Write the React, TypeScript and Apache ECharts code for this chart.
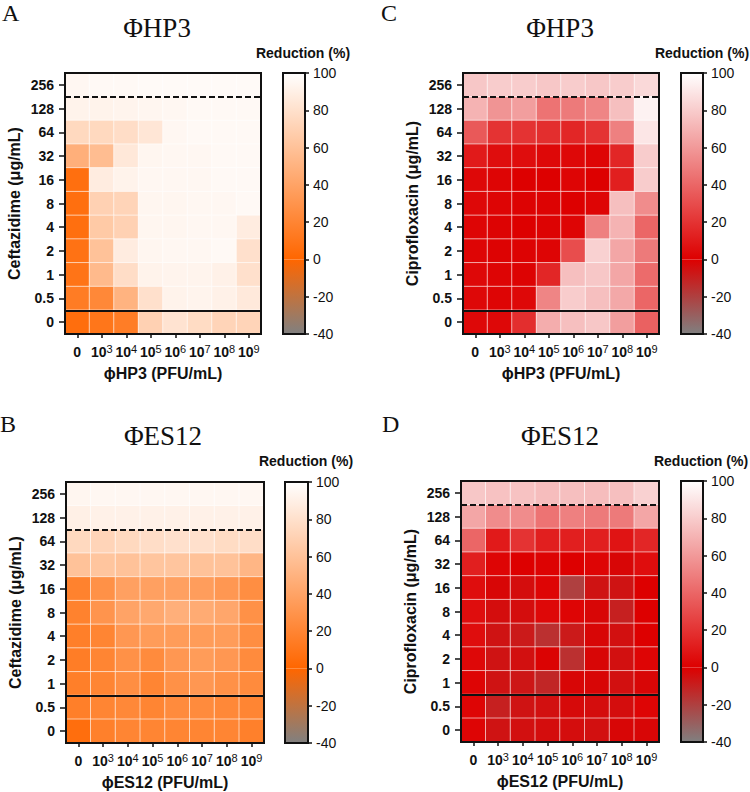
import React, { useEffect, useRef } from "react";
import * as echarts from "echarts";

// ---------- data ----------
const doseExponents = ["0", "3", "4", "5", "6", "7", "8", "9"]; // "0" then 10^n PFU/mL
const concLabels = ["0", "0.5", "1", "2", "4", "8", "16", "32", "64", "128", "256"]; // bottom -> top

// rows listed top (256) -> bottom (0), columns 0, 10^3 ... 10^9
const hp3Ceftazidime = [
  [95, 96, 96, 97, 97, 97, 97, 97],
  [92, 92, 93, 94, 95, 96, 96, 96],
  [75, 75, 78, 84, 95, 96, 96, 96],
  [48, 57, 85, 94, 95, 95, 96, 96],
  [6, 88, 92, 95, 95, 95, 96, 96],
  [6, 70, 72, 94, 94, 95, 95, 96],
  [6, 65, 70, 94, 94, 95, 95, 88],
  [8, 60, 88, 94, 95, 95, 96, 80],
  [9, 55, 78, 92, 93, 93, 91, 80],
  [14, 22, 50, 80, 92, 93, 91, 86],
  [5, 10, 15, 70, 82, 77, 72, 72],
];
const es12Ceftazidime = [
  [94, 95, 95, 95, 95, 95, 95, 95],
  [90, 91, 91, 91, 91, 91, 91, 91],
  [75, 72, 75, 78, 80, 80, 77, 78],
  [60, 62, 60, 62, 62, 60, 60, 52],
  [18, 28, 38, 38, 38, 36, 32, 26],
  [18, 30, 40, 43, 48, 45, 42, 28],
  [16, 20, 32, 35, 35, 35, 35, 26],
  [15, 20, 28, 24, 32, 35, 32, 24],
  [16, 20, 26, 20, 28, 32, 28, 24],
  [16, 20, 22, 20, 24, 24, 22, 20],
  [5, 17, 20, 20, 20, 20, 20, 17],
];
const hp3Ciprofloxacin = [
  [78, 80, 80, 78, 80, 78, 80, 85],
  [70, 58, 62, 45, 48, 52, 75, 95],
  [35, 20, 20, 18, 15, 20, 50, 90],
  [10, 5, 5, 3, 3, 2, 15, 80],
  [3, 2, 0, 0, 2, 0, 12, 80],
  [3, 2, 1, 1, 0, 2, 75, 55],
  [2, 1, 0, 1, 2, 50, 70, 40],
  [2, 1, 1, 2, 30, 82, 65, 48],
  [3, 2, 1, 15, 75, 78, 65, 42],
  [3, 2, 3, 52, 80, 75, 66, 40],
  [3, 3, 18, 68, 75, 78, 62, 38],
];
const es12Ciprofloxacin = [
  [78, 76, 76, 74, 75, 74, 75, 82],
  [65, 55, 55, 45, 50, 48, 48, 65],
  [40, 10, 20, 12, 12, 12, 8, 15],
  [12, 2, 0, 1, 0, 2, -2, 5],
  [5, -2, -4, 2, -20, -6, -6, 0],
  [5, -4, -4, 3, 2, -2, -10, 0],
  [5, -6, -8, -15, -8, -2, -5, 0],
  [3, -6, -5, -1, -15, -2, -5, 2],
  [2, -6, -7, -12, -2, -2, -5, -2],
  [2, -10, -6, -5, -3, -4, -4, 2],
  [2, -6, -5, -4, -4, -5, -2, -2],
];
// boundary positions (in row units from bottom) of the dashed / solid lines
const dashedLines = [10, 9, 10, 10]; // A, B, C, D
const solidLines = [1, 2, 1, 2];
const scaleMin = -40;
const scaleMax = 100;

// ---------- panels ----------
const panels = [
  { letter: "A", title: "\u03A6HP3", phage: "\u03D5HP3 (PFU/mL)", drug: "Ceftazidime (\u03BCg/mL)", data: hp3Ceftazidime, base: "#FF6600",
    grid: { left: 65, top: 73, width: 196, height: 261 }, cb: { left: 283, top: 73, width: 22, height: 261 },
    letterPos: [2, 13], titlePos: [157, 28], redPos: [303, 53] },
  { letter: "B", title: "\u03A6ES12", phage: "\u03D5ES12 (PFU/mL)", drug: "Ceftazidime (\u03BCg/mL)", data: es12Ceftazidime, base: "#FF6600",
    grid: { left: 66, top: 482, width: 198, height: 261 }, cb: { left: 285, top: 482, width: 23, height: 261 },
    letterPos: [0, 424], titlePos: [163, 436], redPos: [306, 461] },
  { letter: "C", title: "\u03A6HP3", phage: "\u03D5HP3 (PFU/mL)", drug: "Ciprofloxacin (\u03BCg/mL)", data: hp3Ciprofloxacin, base: "#DD0000",
    grid: { left: 463, top: 73, width: 196, height: 261 }, cb: { left: 681, top: 73, width: 22, height: 261 },
    letterPos: [381, 13], titlePos: [560, 28], redPos: [702, 53] },
  { letter: "D", title: "\u03A6ES12", phage: "\u03D5ES12 (PFU/mL)", drug: "Ciprofloxacin (\u03BCg/mL)", data: es12Ciprofloxacin, base: "#DD0000",
    grid: { left: 461, top: 481, width: 198, height: 261 }, cb: { left: 681, top: 481, width: 22, height: 261 },
    letterPos: [382, 424], titlePos: [560, 436], redPos: [701, 461] },
];

const GRAY = "#808080";
const WHITE = "#FFFFFF";
const SANS = "'Liberation Sans', Arial, Helvetica, sans-serif";
const SERIF = "'Liberation Serif', 'Times New Roman', serif";

function hexToRgb(h: string) {
  const n = parseInt(h.slice(1), 16);
  return [(n >> 16) & 255, (n >> 8) & 255, n & 255];
}
function mix(a: string, b: string, t: number) {
  const A = hexToRgb(a), B = hexToRgb(b);
  const c = A.map((v, i) => Math.round(v + (B[i] - v) * t));
  return "#" + c.map((v) => v.toString(16).padStart(2, "0")).join("");
}
function scaleColors(base: string) {
  const out: string[] = [];
  for (let v = scaleMin; v <= scaleMax; v += 20) {
    out.push(v <= 0 ? mix(GRAY, base, (v - scaleMin) / -scaleMin) : mix(base, WHITE, v / scaleMax));
  }
  return out;
}
function toCells(m: number[][]) {
  const cells: number[][] = [];
  const n = m.length;
  m.forEach((row, r) => row.forEach((v, c) => cells.push([c, n - 1 - r, v])));
  return cells;
}

export default function App() {
  const ref = useRef<HTMLDivElement>(null);
  useEffect(() => {
    document.body.style.margin = "0";
    if (!ref.current) return;
    const chart = echarts.init(ref.current, undefined, { renderer: "svg" });

    const grids: any[] = [];
    const xAxes: any[] = [];
    const yAxes: any[] = [];
    const heatSeries: any[] = [];
    const lineSeries: any[] = [];
    const barSeries: any[] = [];
    const visualMaps: any[] = [];
    const graphics: any[] = [];
    const N = panels.length;

    panels.forEach((p, i) => {
      grids[i] = { ...p.grid, show: true, borderColor: "#111", borderWidth: 2, backgroundColor: "transparent", z: 6 };
      grids[N + i] = { ...p.cb, show: true, borderColor: "#111", borderWidth: 2, backgroundColor: "transparent", z: 6 };

      xAxes[i] = {
        type: "category", gridIndex: i, data: doseExponents,
        axisLine: { show: false },
        axisTick: { show: true, alignWithLabel: true, length: 4, lineStyle: { color: "#111", width: 1.5 } },
        axisLabel: {
          margin: 9, interval: 0,
          formatter: (v: string) => (v === "0" ? "{b|0}" : "{b|10}{s|" + v + "}"),
          rich: {
            b: { fontSize: 14, fontWeight: "bold", fontFamily: SANS, color: "#111", lineHeight: 18 },
            s: { fontSize: 11, fontFamily: SANS, color: "#111", verticalAlign: "top", lineHeight: 11 },
          },
        },
        name: p.phage, nameLocation: "middle", nameGap: 31,
        nameTextStyle: { fontSize: 16, fontWeight: "bold", fontFamily: SANS, color: "#111" },
      };
      xAxes[N + i] = { type: "category", gridIndex: N + i, data: ["cb"], show: false };

      yAxes[i] = {
        type: "category", gridIndex: i, data: concLabels,
        axisLine: { show: false },
        axisTick: { show: true, alignWithLabel: true, length: 6, lineStyle: { color: "#111", width: 1.5 } },
        axisLabel: { margin: 11, fontSize: 14, fontWeight: "bold", fontFamily: SANS, color: "#111" },
        name: p.drug, nameLocation: "middle", nameGap: 43,
        nameTextStyle: { fontSize: 16, fontWeight: "bold", fontFamily: SANS, color: "#111" },
      };
      yAxes[N + i] = {
        type: "value", gridIndex: N + i, position: "right", min: scaleMin, max: scaleMax, interval: 20,
        splitLine: { show: false },
        axisLine: { show: false },
        axisTick: { show: true, length: 4, lineStyle: { color: "#111", width: 1.5 } },
        axisLabel: { margin: 8, fontSize: 14, fontFamily: SANS, color: "#111" },
      };
      yAxes[2 * N + i] = { type: "value", gridIndex: i, min: 0, max: concLabels.length, show: false };

      heatSeries.push({
        type: "heatmap", xAxisIndex: i, yAxisIndex: i, data: toCells(p.data),
        itemStyle: { borderColor: "rgba(255,255,255,0.6)", borderWidth: 1 },
        emphasis: { disabled: true }, z: 2,
      });
      lineSeries.push({
        type: "line", xAxisIndex: i, yAxisIndex: 2 * N + i, data: [], z: 8, silent: true,
        markLine: {
          symbol: "none", silent: true, animation: false, label: { show: false },
          data: [
            { yAxis: dashedLines[i], lineStyle: { type: [6, 3], color: "#111", width: 2 } },
            { yAxis: solidLines[i], lineStyle: { type: "solid", color: "#111", width: 2 } },
          ],
        },
      });
      const cols = scaleColors(p.base);
      barSeries.push({
        type: "bar", xAxisIndex: N + i, yAxisIndex: N + i, stack: "cb" + i, barWidth: "100%", silent: true,
        data: [scaleMax], z: 2,
        itemStyle: { color: new echarts.graphic.LinearGradient(0, 0, 0, 1, [{ offset: 0, color: WHITE }, { offset: 1, color: p.base }]) },
      });
      barSeries.push({
        type: "bar", xAxisIndex: N + i, yAxisIndex: N + i, stack: "cb" + i, barWidth: "100%", silent: true,
        data: [scaleMin], z: 2,
        itemStyle: { color: new echarts.graphic.LinearGradient(0, 0, 0, 1, [{ offset: 0, color: p.base }, { offset: 1, color: GRAY }]) },
      });
      visualMaps.push({
        show: false, type: "continuous", seriesIndex: i, dimension: 2, min: scaleMin, max: scaleMax,
        inRange: { color: cols },
      });

      graphics.push(
        { type: "text", x: p.letterPos[0], y: p.letterPos[1],
          style: { text: p.letter, font: "24px " + SERIF, fill: "#111", textAlign: "left", textVerticalAlign: "middle", align: "left", verticalAlign: "middle" } },
        { type: "text", x: p.titlePos[0], y: p.titlePos[1],
          style: { text: p.title, font: "27px " + SERIF, fill: "#111", textAlign: "center", textVerticalAlign: "middle", align: "center", verticalAlign: "middle" } },
        { type: "text", x: p.redPos[0], y: p.redPos[1],
          style: { text: "Reduction (%)", font: "bold 14px " + SANS, fill: "#111", textAlign: "center", textVerticalAlign: "middle", align: "center", verticalAlign: "middle" } },
      );
    });

    chart.setOption({
      animation: false,
      backgroundColor: "#fff",
      grid: grids,
      xAxis: xAxes,
      yAxis: yAxes,
      visualMap: visualMaps,
      series: [...heatSeries, ...lineSeries, ...barSeries],
      graphic: graphics,
    });
    return () => chart.dispose();
  }, []);
  return <div ref={ref} style={{ width: 750, height: 792 }} />;
}
